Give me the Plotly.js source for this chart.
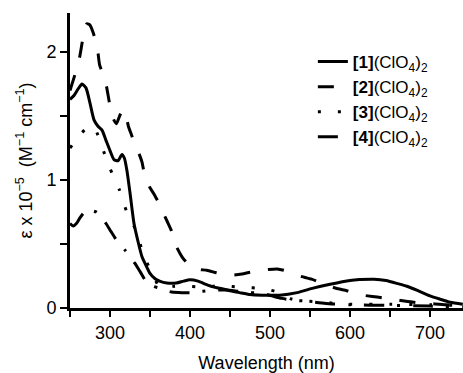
<!DOCTYPE html>
<html>
<head>
<meta charset="utf-8">
<script src="https://cdn.plot.ly/plotly-3.0.1.min.js"></script>
<style>html,body{margin:0;padding:0;background:#fff;}#chart{width:463px;height:373px;}</style>
</head>
<body>
<div id="chart"></div>
<script>
// Series 1: [1](ClO4)2 (solid)
const wl1 = [250,255,260,265,270,275,280,285,290,295,300,305,310,315,318,321,325,330,335,340,346,350,356,362,371,383,392,400,410,420,429,440,450,462,475,490,512,534,554,575,600,612,630,645,660,671,685,700,712,725,741];
const eps1 = [1.63,1.66,1.71,1.75,1.72,1.60,1.47,1.42,1.39,1.31,1.23,1.16,1.15,1.20,1.17,1.08,0.90,0.66,0.52,0.40,0.32,0.27,0.23,0.21,0.195,0.195,0.21,0.22,0.21,0.185,0.165,0.15,0.135,0.12,0.105,0.10,0.10,0.12,0.155,0.185,0.215,0.222,0.225,0.215,0.19,0.17,0.135,0.095,0.07,0.045,0.03];

// Series 2: [2](ClO4)2 (dashed)
const wl2 = [250,256,262,266,271,275,279,284,287,291,295,300,304,308,312,316,320,323,327,331,336,340,344,350,356,361,366,372,377,383,390,398,405,413,421,433,444,455,465,475,485,497,509,520,529,540,552,562,572,585,596,606,616,628,640,650,660,672,684,700,720,741];
const eps2 = [1.70,1.82,1.96,2.10,2.22,2.21,2.15,2.04,1.90,1.83,1.75,1.58,1.48,1.44,1.50,1.55,1.50,1.42,1.35,1.28,1.21,1.14,1.02,0.94,0.88,0.82,0.75,0.67,0.60,0.48,0.40,0.34,0.31,0.30,0.295,0.275,0.26,0.258,0.265,0.28,0.29,0.30,0.305,0.29,0.265,0.245,0.225,0.20,0.175,0.15,0.135,0.115,0.10,0.09,0.08,0.07,0.063,0.05,0.042,0.035,0.025,0.02];

// Series 3: [3](ClO4)2 (dotted)
const wl3 = [250,256,262,270,279,285,290,300,312,321,333,341,348,354,360,366,372,381,395,408,416,425,435,447,459,472,485,500,512,527,545,562,583,600,650,700,741];
const eps3 = [1.25,1.30,1.35,1.40,1.42,1.35,1.26,1.09,0.92,0.75,0.60,0.43,0.33,0.26,0.18,0.155,0.16,0.17,0.17,0.165,0.155,0.165,0.175,0.17,0.165,0.16,0.155,0.14,0.12,0.07,0.055,0.048,0.035,0.03,0.03,0.025,0.02];

// Series 4: [4](ClO4)2 (dash-dot)
const wl4 = [250,254,258,262,268,273,278,283,287,295,300,306,312,319,325,331,338,346,354,362,370,377,390,404,416,430,445,460,475,490,505,515,530,544,556,570,600,650,700,741];
const eps4 = [0.66,0.64,0.66,0.70,0.75,0.77,0.76,0.75,0.73,0.66,0.61,0.55,0.50,0.45,0.40,0.35,0.28,0.20,0.17,0.155,0.135,0.125,0.12,0.12,0.13,0.14,0.14,0.13,0.12,0.115,0.09,0.075,0.06,0.055,0.045,0.035,0.025,0.02,0.015,0.01];

const names = ['<b>[1]</b>(ClO<sub>4</sub>)<sub>2</sub>','<b>[2]</b>(ClO<sub>4</sub>)<sub>2</sub>','<b>[3]</b>(ClO<sub>4</sub>)<sub>2</sub>','<b>[4]</b>(ClO<sub>4</sub>)<sub>2</sub>'];
const xTickVals = [250,300,350,400,450,500,550,600,650,700];
const xTickText = ['','300','','400','','500','','600','','700'];
const yTickVals = [0,0.5,1,1.5,2];
const yTickText = ['0','','1','','2'];

const font = 'Liberation Sans, Arial, sans-serif';
const dashes = ['solid','16px,18px','3px,17px','20px,13px,3px,13px'];
const xs = [wl1,wl2,wl3,wl4], ys = [eps1,eps2,eps3,eps4];
const traces = xs.map((x,i)=>({x:x,y:ys[i],type:'scatter',mode:'lines',name:names[i],
  line:{color:'#000',width:3,dash:dashes[i],shape:'spline',smoothing:0.6}}));

const layout = {
  width:463,height:373,
  margin:{l:70,r:0,t:13,b:65},
  paper_bgcolor:'#fff',plot_bgcolor:'#fff',
  font:{family:font,size:18,color:'#000'},
  showlegend:true,
  legend:{x:0.618,y:0.895,xanchor:'left',yanchor:'top',bgcolor:'rgba(0,0,0,0)',borderwidth:0,font:{family:font,size:17,color:'#000'},tracegroupgap:0},
  xaxis:{range:[250,741.25],showline:true,linewidth:3,linecolor:'#000',ticks:'outside',ticklen:6,tickwidth:2,tickcolor:'#000',
    tickvals:xTickVals,ticktext:xTickText,showgrid:false,zeroline:false,
    title:{text:'Wavelength (nm)',font:{family:font,size:18,color:'#000'},standoff:19}},
  yaxis:{range:[0,2.305],showline:true,linewidth:3,linecolor:'#000',ticks:'outside',ticklen:7,tickwidth:2,tickcolor:'#000',
    tickvals:yTickVals,ticktext:yTickText,showgrid:false,zeroline:false,
    title:{text:'ε x 10<sup>−5</sup>  (M<sup>−1</sup> cm<sup>−1</sup>)',font:{family:font,size:18,color:'#000'},standoff:10}}
};
Plotly.newPlot('chart',traces,layout,{staticPlot:true,displayModeBar:false});
</script>
</body>
</html>
